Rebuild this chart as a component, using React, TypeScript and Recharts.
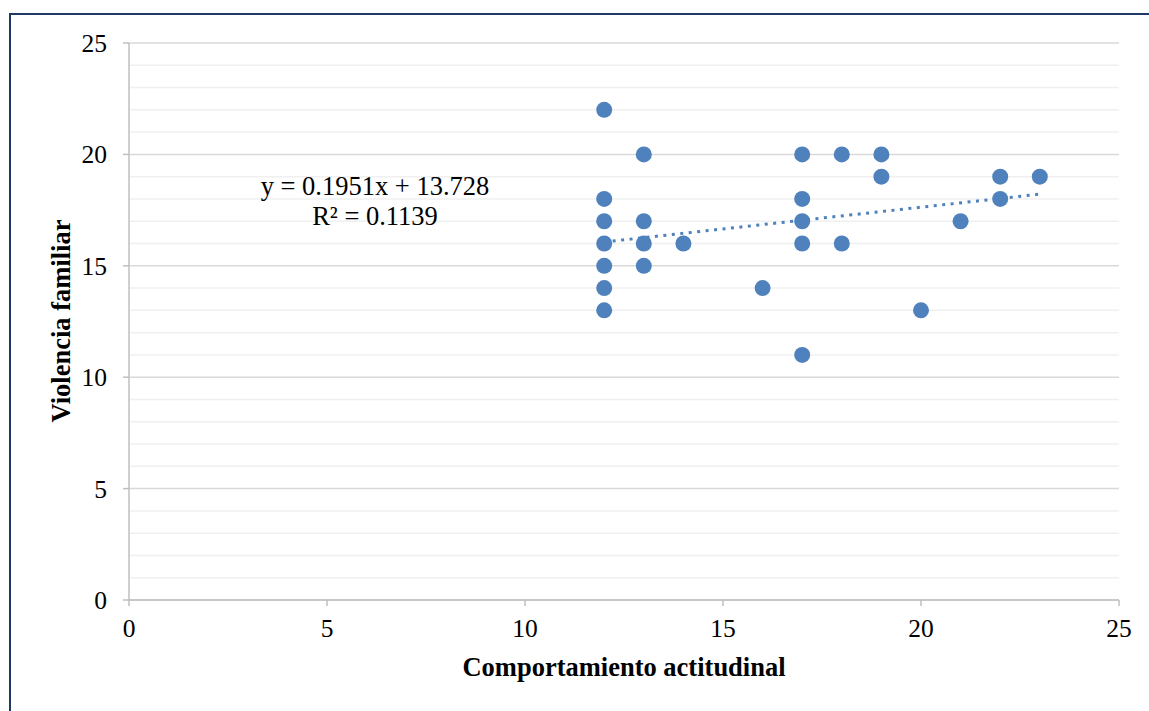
import React from 'react';
import { ScatterChart, Scatter, XAxis, YAxis, CartesianGrid, ReferenceLine } from 'recharts';

// Comportamiento actitudinal (x) vs Violencia familiar (y)
const actitudinal = [12, 12, 12, 12, 12, 12, 12, 13, 13, 13, 13, 14, 16, 17, 17, 17, 17, 17, 18, 18, 19, 19, 20, 21, 22, 22, 23];
const violencia = [22, 18, 17, 16, 15, 14, 13, 20, 17, 16, 15, 16, 14, 20, 18, 17, 16, 11, 20, 16, 20, 19, 13, 17, 19, 18, 19];

const xTicks = [0, 5, 10, 15, 20, 25];
const yTicks = [0, 5, 10, 15, 20, 25];
const yMinorTicks = [1, 2, 3, 4, 6, 7, 8, 9, 11, 12, 13, 14, 16, 17, 18, 19, 21, 22, 23, 24];

// linear trendline shown in the chart
const slope = 0.1951;
const intercept = 13.728;
const trendRange = [12, 23];

const points = actitudinal.map((x, i) => ({ x, y: violencia[i] }));
const trend = trendRange.map((x) => ({ x, y: slope * x + intercept }));

const FONT = '"Liberation Serif", "Times New Roman", serif';
const BLUE = '#4F81BD';
const AXIS = '#BFBFBF';

export default function App() {
  const tick = { fontSize: 25.5, fill: '#000', fontFamily: FONT };
  return (
    <div style={{ position: 'absolute', left: 0, top: 0, width: 1149, height: 711, background: '#fff', overflow: 'hidden' }}>
      <div
        style={{
          position: 'absolute',
          left: 9,
          top: 13,
          width: 1180,
          height: 740,
          border: '2px solid #1F3864',
          boxSizing: 'border-box',
        }}
      />
      <div style={{ position: 'absolute', left: 0, top: 0 }}>
        <ScatterChart width={1149} height={711} margin={{ top: 43, right: 30, bottom: 0, left: 0 }}>
          {yMinorTicks.map((v) => (
            <ReferenceLine key={v} y={v} stroke="#F0F0F0" strokeWidth={1.5} />
          ))}
          <CartesianGrid vertical={false} stroke="#D9D9D9" strokeWidth={1.5} />
          <XAxis
            type="number"
            dataKey="x"
            domain={[0, 25]}
            ticks={xTicks}
            height={111}
            stroke={AXIS}
            strokeWidth={1.5}
            tickSize={6}
            tickMargin={13}
            tick={tick}
            interval={0}
          />
          <YAxis
            type="number"
            dataKey="y"
            domain={[0, 25]}
            ticks={yTicks}
            width={129}
            stroke={AXIS}
            strokeWidth={1.5}
            tickSize={6}
            tickMargin={16}
            tick={tick}
            interval={0}
          />
          <Scatter
            data={trend}
            line={{ stroke: BLUE, strokeWidth: 3, strokeDasharray: '3 5.5' }}
            shape={() => null}
            isAnimationActive={false}
          />
          <Scatter
            data={points}
            fill={BLUE}
            shape={(p: any) => <circle cx={p.cx} cy={p.cy} r={8} fill={BLUE} />}
            isAnimationActive={false}
          />
        </ScatterChart>
      </div>
      <div
        style={{
          position: 'absolute',
          left: 375,
          top: 171,
          transform: 'translateX(-50%)',
          fontFamily: FONT,
          fontSize: 26.5,
          lineHeight: '30px',
          textAlign: 'center',
          whiteSpace: 'nowrap',
          color: '#000',
        }}
      >
        y = 0.1951x + 13.728
        <br />
        R² = 0.1139
      </div>
      <div
        style={{
          position: 'absolute',
          left: 624,
          top: 653,
          transform: 'translateX(-50%)',
          fontFamily: FONT,
          fontSize: 26.5,
          fontWeight: 'bold',
          whiteSpace: 'nowrap',
          lineHeight: '28px',
          color: '#000',
        }}
      >
        Comportamiento actitudinal
      </div>
      <div
        style={{
          position: 'absolute',
          left: 61,
          top: 321,
          transform: 'translate(-50%, -50%) rotate(-90deg)',
          fontFamily: FONT,
          fontSize: 26.5,
          fontWeight: 'bold',
          whiteSpace: 'nowrap',
          lineHeight: '28px',
          color: '#000',
        }}
      >
        Violencia familiar
      </div>
    </div>
  );
}
